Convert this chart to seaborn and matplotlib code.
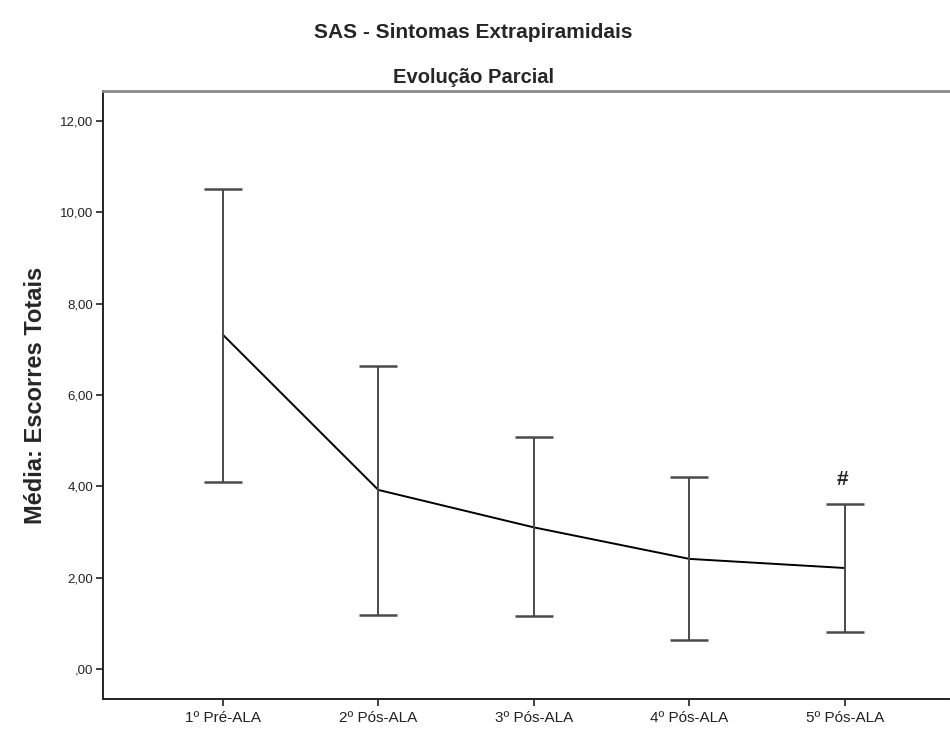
import matplotlib
matplotlib.use("Agg")
import matplotlib.pyplot as plt
import seaborn as sns
import pandas as pd

# Sessions and SAS total score summary (mean with interval bounds)
sessions = ["1º Pré-ALA", "2º Pós-ALA", "3º Pós-ALA", "4º Pós-ALA", "5º Pós-ALA"]
means = [7.32, 3.92, 3.10, 2.41, 2.21]
upper = [10.51, 6.64, 5.08, 4.20, 3.61]
lower = [4.10, 1.19, 1.15, 0.63, 0.81]
flags = ["", "", "", "", "#"]
y_ticks = [0, 2, 4, 6, 8, 10, 12]


def fmt_tick(v):
    s = f"{v:.2f}".replace(".", ",")
    return s[1:] if v == 0 else s


sns.set_theme(style="ticks")
plt.rcParams["font.family"] = ["Liberation Sans", "DejaVu Sans"]

df = pd.DataFrame({"sessao": sessions, "media": means})

fig = plt.figure(figsize=(9.5, 7.29), dpi=100)
ax = fig.add_axes([0.1084, 0.041, 0.8906, 0.834])

sns.lineplot(data=df, x="sessao", y="media", color="black", linewidth=1.4,
             sort=False, ax=ax)

err_low = [m - lo for m, lo in zip(means, lower)]
err_up = [hi - m for m, hi in zip(means, upper)]
ax.errorbar(sessions, means, yerr=[err_low, err_up], fmt="none",
            ecolor="#4a4a4a", elinewidth=1.4, capsize=14, capthick=1.8)

for s, hi, f in zip(sessions, upper, flags):
    if f:
        ax.annotate(f, xy=(s, hi), xytext=(-2, 18), textcoords="offset points",
                    ha="center", va="center", fontsize=15, fontweight="bold")

ax.set_xlim(-0.77, 4.67)
ax.set_ylim(-0.66, 12.65)
ax.set_yticks(y_ticks)
ax.set_yticklabels([fmt_tick(v) for v in y_ticks])
ax.tick_params(axis="y", labelsize=9.5, pad=2)
ax.tick_params(axis="x", labelsize=11)
ax.tick_params(axis="both", length=5, width=1.2, color="#222222",
               labelcolor="#222222")
ax.set_xlabel("")
ax.set_ylabel("Média: Escorres Totais", fontsize=17, fontweight="bold")
ax.yaxis.set_label_coords(-0.066, 0.5)

for side in ["left", "bottom"]:
    ax.spines[side].set_color("#222222")
    ax.spines[side].set_linewidth(1.4)
ax.spines["top"].set_color("#8a8a8a")
ax.spines["top"].set_linewidth(2.0)
ax.spines["right"].set_visible(False)

fig.text(0.498, 0.955, "SAS - Sintomas Extrapiramidais", ha="center", va="center",
         fontsize=15, fontweight="bold")
fig.text(0.498, 0.894, "Evolução Parcial", ha="center", va="center",
         fontsize=14.5, fontweight="bold")

fig.savefig("out.png", dpi=100, facecolor="white")
